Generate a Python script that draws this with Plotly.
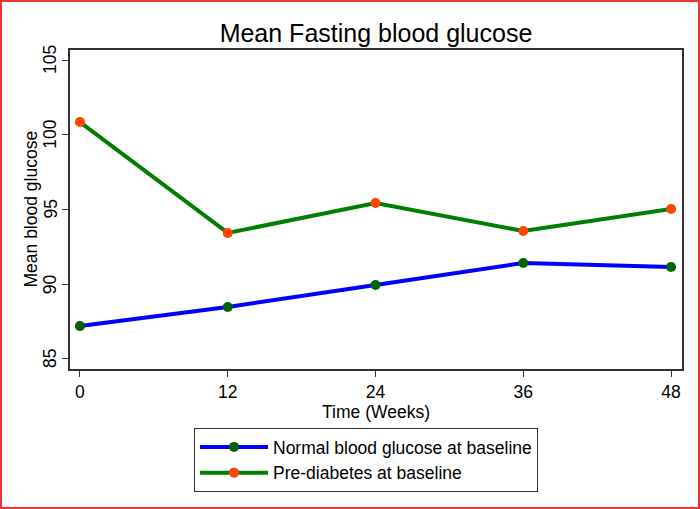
import plotly.graph_objects as go

weeks = [0, 12, 24, 36, 48]
normal_bg = [87.2, 88.48, 89.95, 91.42, 91.15]
prediab_bg = [100.85, 93.43, 95.43, 93.56, 95.03]
series_names = ["Normal blood glucose at baseline", "Pre-diabetes at baseline"]
x_ticks = [0, 12, 24, 36, 48]
y_ticks = [85, 90, 95, 100, 105]
y_title = "Mean blood glucose"

W, H = 700, 509
L, R, T, B = 70, 18, 50, 140
pw, ph = W - L - R, H - T - B

fig = go.Figure()
fig.add_trace(go.Scatter(x=weeks, y=normal_bg, mode="lines+markers", name=series_names[0],
                         line=dict(color="#0000ff", width=4),
                         marker=dict(color="#006400", size=10)))
fig.add_trace(go.Scatter(x=weeks, y=prediab_bg, mode="lines+markers", name=series_names[1],
                         line=dict(color="#008000", width=4),
                         marker=dict(color="#ff4500", size=10)))

def px(xp):
    return (xp - L) / pw

def py(yp):
    return 1 - (yp - T) / ph

fig.add_shape(type="rect", xref="paper", yref="paper",
              x0=px(1), x1=px(W - 1), y0=py(1), y1=py(H - 1),
              line=dict(color="#ee3333", width=2), layer="above")

fig.add_annotation(text=y_title, xref="paper", yref="paper", x=px(30), y=0.5,
                   xanchor="center", yanchor="middle", textangle=-90, showarrow=False,
                   font=dict(size=17.5))

for v in y_ticks:
    fig.add_annotation(text=str(v), xref="paper", yref="y", x=px(50), y=v,
                       xanchor="center", yanchor="middle", textangle=-90, showarrow=False,
                       font=dict(size=17.5))

fig.update_layout(
    width=W, height=H,
    margin=dict(l=L, r=R, t=T, b=B),
    paper_bgcolor="white", plot_bgcolor="white",
    font=dict(family="Liberation Sans, Arial, sans-serif", color="black", size=17),
    title=dict(text="Mean Fasting blood glucose", x=0.5, xref="paper", xanchor="center",
               y=1 - 33 / H, yanchor="middle", font=dict(size=25)),
    showlegend=True,
    legend=dict(orientation="v", x=px(194), xanchor="left", xref="paper",
                y=py(428), yanchor="top", yref="paper",
                bordercolor="#333333", borderwidth=1, bgcolor="white",
                font=dict(size=17.5), itemwidth=68, tracegroupgap=0),
    xaxis=dict(range=[-0.81, 48.89], tickvals=x_ticks, ticks="outside", ticklen=6,
               tickcolor="#333333", showgrid=False, zeroline=False,
               showline=True, linecolor="#333333", linewidth=1.5, mirror=True,
               title=dict(text="Time (Weeks)", standoff=0, font=dict(size=17.5)),
               tickfont=dict(size=17.5)),
    yaxis=dict(range=[84.33, 105.67], tickvals=y_ticks, ticks="outside", ticklen=6,
               tickcolor="#333333", showgrid=False, zeroline=False,
               showline=True, linecolor="#333333", linewidth=1.5, mirror=True,
               showticklabels=False),
)

fig.write_html("out.html", config={"displayModeBar": False},
               post_script="document.body.style.margin='0';")
